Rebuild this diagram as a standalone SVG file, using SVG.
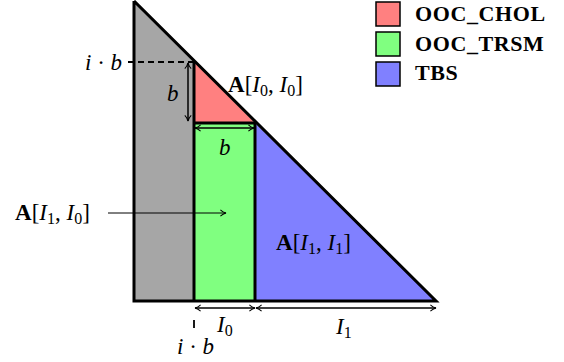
<svg xmlns="http://www.w3.org/2000/svg" width="564" height="362" viewBox="0 0 564 362">
<defs>
<style>
.t{font-family:"Liberation Serif","DejaVu Serif",serif;font-size:23px;fill:#000}
.it{font-style:italic}
.b{font-weight:bold}
.s{font-size:16px}
.leg{font-family:"Liberation Serif","DejaVu Serif",serif;font-size:22px;font-weight:bold;fill:#000;letter-spacing:0.6px}
.edge{stroke:#000;stroke-width:3;stroke-linejoin:miter}
.dim{stroke:#000;stroke-width:1.5;fill:none}
</style>
<marker id="ah" viewBox="0 0 10 10" refX="9" refY="5" markerWidth="8" markerHeight="8" orient="auto-start-reverse" markerUnits="userSpaceOnUse">
<path d="M2,1 Q5,4 9,5 Q5,6 2,9" fill="none" stroke="#000" stroke-width="1.3"/>
</marker>
</defs>
<g id="gray"><polygon points="134,1 194,62 194,301 134,301" fill="#a6a6a6"/></g>
<g id="chol"><polygon points="194,62 255,123 194,123" fill="#ff8080"/></g>
<g id="trsm"><rect x="194" y="123" width="61" height="178" fill="#80ff80"/></g>
<g id="tbs"><polygon points="255,123 436,301 255,301" fill="#8080ff"/></g>
<g id="outlines" fill="none">
<polyline class="edge" points="134,1 134,301 436,301 134,1" fill="none"/>
<line class="edge" x1="194" y1="62" x2="194" y2="301"/>
<line class="edge" x1="194" y1="123" x2="255" y2="123"/>
<line class="edge" x1="255" y1="123" x2="255" y2="301"/>
</g>
<g id="connectors">
<line x1="128" y1="62" x2="194" y2="62" stroke="#000" stroke-width="1.8" stroke-dasharray="6,4"/>
<line class="dim" x1="188" y1="63" x2="188" y2="121" marker-start="url(#ah)" marker-end="url(#ah)"/>
<line class="dim" x1="195" y1="128" x2="254" y2="128" marker-start="url(#ah)" marker-end="url(#ah)"/>
<line x1="108" y1="213" x2="226" y2="213" stroke="#000" stroke-width="1" marker-end="url(#ah)"/>
<line class="dim" x1="195" y1="308" x2="255" y2="308" marker-start="url(#ah)" marker-end="url(#ah)"/>
<line class="dim" x1="256" y1="308" x2="436" y2="308" marker-start="url(#ah)" marker-end="url(#ah)"/>
<line x1="194" y1="320" x2="194" y2="328" stroke="#000" stroke-width="1.8"/>
</g>
<g id="labels">
<text class="t" x="85" y="70"><tspan class="it">i</tspan> · <tspan class="it">b</tspan></text>
<text class="t it" x="167" y="101">b</text>
<text class="t it" x="219" y="155">b</text>
<text class="t" x="228" y="92"><tspan class="b">A</tspan>[<tspan class="it">I</tspan><tspan class="s" dy="4">0</tspan><tspan dy="-4">, </tspan><tspan class="it">I</tspan><tspan class="s" dy="4">0</tspan><tspan dy="-4">]</tspan></text>
<text class="t" x="15" y="220"><tspan class="b">A</tspan>[<tspan class="it">I</tspan><tspan class="s" dy="4">1</tspan><tspan dy="-4">, </tspan><tspan class="it">I</tspan><tspan class="s" dy="4">0</tspan><tspan dy="-4">]</tspan></text>
<text class="t" x="276" y="250"><tspan class="b">A</tspan>[<tspan class="it">I</tspan><tspan class="s" dy="4">1</tspan><tspan dy="-4">, </tspan><tspan class="it">I</tspan><tspan class="s" dy="4">1</tspan><tspan dy="-4">]</tspan></text>
<text class="t" x="217" y="332"><tspan class="it">I</tspan><tspan class="s" dy="4">0</tspan></text>
<text class="t" x="336" y="334"><tspan class="it">I</tspan><tspan class="s" dy="4">1</tspan></text>
<text class="t" x="177" y="354"><tspan class="it">i</tspan> · <tspan class="it">b</tspan></text>
</g>
<g id="legend">
<rect x="376" y="2" width="24" height="24" fill="#ff8080" stroke="#000" stroke-width="1.5"/>
<rect x="376" y="32" width="24" height="24" fill="#80ff80" stroke="#000" stroke-width="1.5"/>
<rect x="376" y="62" width="24" height="24" fill="#8080ff" stroke="#000" stroke-width="1.5"/>
<text class="leg" x="415" y="21">OOC_CHOL</text>
<text class="leg" x="415" y="51">OOC_TRSM</text>
<text class="leg" x="415" y="80">TBS</text>
</g>
</svg>
